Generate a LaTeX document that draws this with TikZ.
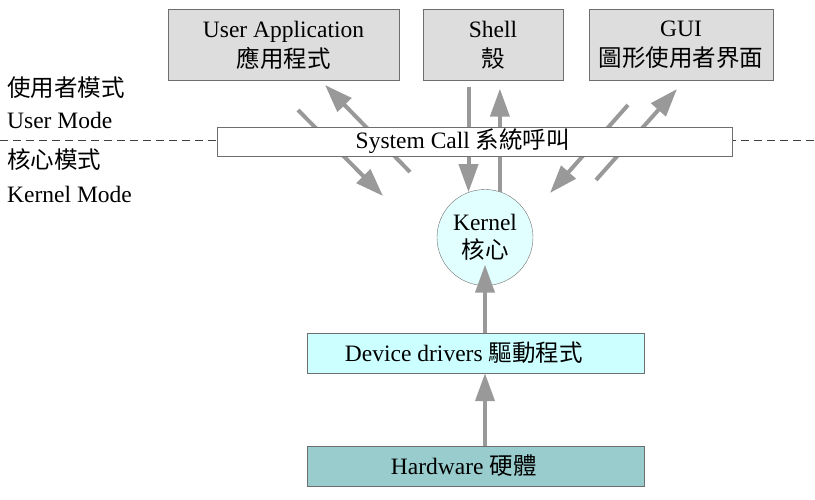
\documentclass[tikz,border=0pt]{standalone}
\usepackage{fontspec}
\setmainfont{Liberation Serif}
\newfontfamily\cjk{Noto Sans CJK TC}
\newcommand{\zh}[1]{{\cjk #1}}
\usetikzlibrary{arrows.meta}
\definecolor{boxgray}{HTML}{DDDDDD}
\definecolor{linegray}{HTML}{6E6E6E}
\definecolor{arrowgray}{HTML}{999999}
\definecolor{kernelfill}{HTML}{E2FFFF}
\definecolor{drvfill}{HTML}{CCFFFF}
\definecolor{hwfill}{HTML}{99CCCC}
\begin{document}
\begin{tikzpicture}[x=1pt, y=-1pt,
	every node/.style={font=\fontsize{23.5}{30}\selectfont, align=center},
	prog/.style={draw=linegray, fill=boxgray, minimum height=71pt, inner sep=0pt},
	layer/.style={draw=linegray, minimum height=40pt, inner sep=0pt},
	flow/.style={draw=arrowgray, line width=4pt, -{Triangle[width=19pt,length=28pt]}},
	modeline/.style={draw=black!75, line width=0.8pt, dash pattern=on 8pt off 5pt},
	mode/.style={anchor=west, inner sep=0pt}]
	\useasboundingbox (0,0) rectangle (815,500);

	\node (app) [prog, minimum width=231pt] at (283.5,45) {User Application\\\zh{應用程式}};
	\node (sh) [prog, minimum width=140pt] at (493,45) {Shell\\\zh{殼}};
	\node (gui) [prog, minimum width=184pt] at (681,45) {GUI\\\zh{圖形使用者界面}};
	\node (k) [circle, draw=linegray, fill=kernelfill, minimum size=96pt, inner sep=0pt] at (485,237.5) {Kernel\\[-2pt]\zh{核心}};
	\node (drv) [layer, fill=drvfill, minimum width=337pt] at (475.5,353) {Device drivers \zh{驅動程式}\hspace*{1em}};
	\node (hw) [layer, fill=hwfill, minimum width=337pt] at (475.5,466) {Hardware \zh{硬體}\hspace*{1em}};

	\node (um-zh) [mode] at (7,88) {\zh{使用者模式}};
	\node (um) [mode] at (7,120) {User Mode};
	\node (km-zh) [mode] at (7,160) {\zh{核心模式}};
	\node (km) [mode] at (7,194) {Kernel Mode};

	\draw[modeline] (0,140) -- (815,140);

	\coordinate (app-in) at (298,110);
	\coordinate (app-tip) at (383,196);
	\coordinate (app-up) at (410,172);
	\coordinate (app-out) at (325,85);
	\coordinate (gui-in) at (628,105);
	\coordinate (gui-tip) at (550,193);
	\coordinate (gui-up) at (596,180);
	\coordinate (gui-out) at (677,89);

	\draw[flow] (app-in) -- (app-tip);
	\draw[flow] (app-up) -- (app-out);
	\draw[flow] (gui-in) -- (gui-tip);
	\draw[flow] (gui-up) -- (gui-out);
	\draw[flow, shorten <=6pt] (k.110 |- sh.south) -- (k.110);
	\draw[flow, shorten >=8pt] (k.72) -- (k.72 |- sh.south);
	\draw[flow] (hw.north -| k) -- (drv.south -| k);
	\draw[flow] (drv.north -| k) -- ([yshift=21pt]k.south);

	\node (sc) [draw=linegray, fill=white, minimum width=515pt, minimum height=29pt, inner sep=0pt] at (474.5,141.5) {System Call \zh{系統呼叫}\hspace*{1em}};
\end{tikzpicture}
\end{document}
